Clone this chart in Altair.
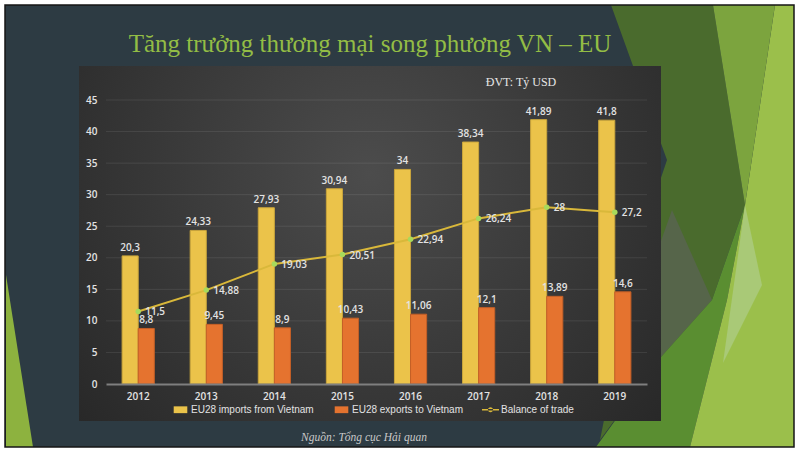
import altair as alt
import pandas as pd

# ---------------- data ----------------
years = ["2012", "2013", "2014", "2015", "2016", "2017", "2018", "2019"]
imports_from_vn = [20.3, 24.33, 27.93, 30.94, 34, 38.34, 41.89, 41.8]
exports_to_vn = [8.8, 9.45, 8.9, 10.43, 11.06, 12.1, 13.89, 14.6]
balance_of_trade = [11.5, 14.88, 19.03, 20.51, 22.94, 26.24, 28, 27.2]
series_names = ["EU28 imports from Vietnam", "EU28 exports to Vietnam", "Balance of trade"]
y_ticks = [0, 5, 10, 15, 20, 25, 30, 35, 40, 45]

title_text = "Tăng trưởng thương mại song phương VN – EU"
unit_text = "ĐVT: Tỷ USD"
source_text = "Nguồn: Tổng cục Hải quan"

# ---------------- styling ----------------
PLOT_L, PLOT_T, PLOT_W, PLOT_H = 106, 100, 541, 284
YEL, YEL_D = "#EBC34A", "#C9A53C"
ORA, ORA_D = "#E5732F", "#C45F27"
LINE_C, PT_C = "#D9B83A", "#A8D95B"
LBL = "#E3E3E3"
SLIDE = "#2D3B43"


def vn(v):
    return f"{v:g}".replace(".", ",")


bars_df = pd.DataFrame({
    "year": years * 2,
    "series": [series_names[0]] * len(years) + [series_names[1]] * len(years),
    "value": imports_from_vn + exports_to_vn,
})
bars_df["label"] = bars_df["value"].map(vn)

line_df = pd.DataFrame({"year": years, "value": balance_of_trade})
line_df["label"] = line_df["value"].map(vn)

grid_df = pd.DataFrame({"value": y_ticks[1:]})
legend_df = pd.DataFrame({"key": series_names})
one = pd.DataFrame({"a": [0]})

# decorative slide shapes (canvas pixel paths, drawn as custom symbols at canvas origin)
decor_df = pd.DataFrame({
    "idx": list(range(7)),
    "path": [
        "M611,5L713,5L745,205L712,300L661,357L600,440L640,240L667,160Z",
        "M672,210L712,300L661,357L640,300Z",
        "M596,447L661,357L712,300L745,205L727,300L690,447Z",
        "M775,5L794,5L794,447L690,447L727,300L745,205Z",
        "M713,5L775,5L745,205Z",
        "M745,205L762,285L723,363Z",
        "M6,275L33,447L6,447Z",
    ],
    "fill": ["#4A6B2D", "#56654A", "#5A8E31", "#9BBF4B", "#7CA43E", "#A9C977", "#8DB23F"],
})

rel_x = lambda px: alt.value(px - PLOT_L)
rel_y = lambda py: alt.value(py - PLOT_T)

slide_bg = alt.Chart(one).mark_rect(color=SLIDE).encode(
    x=rel_x(5), x2=rel_x(794), y=rel_y(5), y2=rel_y(447)
)

decor = alt.Chart(decor_df).mark_point(filled=True, opacity=1, size=4, strokeWidth=0).encode(
    x=rel_x(0), y=rel_y(0),
    shape=alt.Shape("path:N", scale=None, legend=None),
    color=alt.Color("fill:N", scale=None, legend=None),
    order=alt.Order("idx:Q"),
)

frame = alt.Chart(one).mark_rect(fillOpacity=0, stroke="#161616", strokeWidth=1.5).encode(
    x=rel_x(5), x2=rel_x(794), y=rel_y(5), y2=rel_y(447)
)

panel = alt.Chart(one).mark_rect(
    fill={
        "gradient": "radial",
        "x1": 0.5, "y1": 0.38, "r1": 0,
        "x2": 0.5, "y2": 0.38, "r2": 0.75,
        "stops": [
            {"offset": 0, "color": "#4C4C4C"},
            {"offset": 1, "color": "#232323"},
        ],
    }
).encode(x=rel_x(79), x2=rel_x(661), y=rel_y(66), y2=rel_y(421))

title = alt.Chart(one).mark_text(
    text=title_text, font="Liberation Serif", fontSize=25, color="#93BD45",
    align="center", baseline="alphabetic",
).encode(x=rel_x(370), y=rel_y(52))

unit = alt.Chart(one).mark_text(
    text=unit_text, font="Liberation Serif", fontSize=12, color="#E6E6E6",
    align="center", baseline="alphabetic",
).encode(x=rel_x(521), y=rel_y(86))

source = alt.Chart(one).mark_text(
    text=source_text, font="Liberation Serif", fontSize=11.5, fontStyle="italic", color="#C8C8C8",
    align="center", baseline="alphabetic",
).encode(x=rel_x(364), y=rel_y(441))

y_scale = alt.Scale(domain=[0, 45], nice=False)
x_scale = alt.Scale(paddingInner=0.527, paddingOuter=0.2365)

x_axis = alt.Axis(
    title="", labelAngle=0, labelColor=LBL, labelFont="Open Sans", labelFontSize=10,
    labelFontWeight=600, ticks=False, domainColor="#7F7F7F", domainWidth=2,
    labelPadding=7, grid=False, zindex=1,
)
y_axis = alt.Axis(
    title="", values=y_ticks, labelColor=LBL, labelFont="Open Sans", labelFontSize=10,
    labelFontWeight=600, ticks=False, domain=False, grid=False, labelPadding=9, zindex=1,
)

X = lambda: alt.X("year:N", sort=years, scale=x_scale, axis=x_axis)
Y = lambda: alt.Y("value:Q", scale=y_scale, axis=y_axis)

grid = alt.Chart(grid_df).mark_rule(color="#FFFFFF", strokeOpacity=0.09, strokeWidth=1).encode(y=Y())

bars = alt.Chart(bars_df).mark_bar(strokeWidth=1).encode(
    x=X(),
    xOffset=alt.XOffset("series:N", sort=series_names[:2]),
    y=Y(),
    color=alt.Color("series:N", scale=alt.Scale(domain=series_names[:2], range=[YEL, ORA]), legend=None),
    stroke=alt.Stroke("series:N", scale=alt.Scale(domain=series_names[:2], range=[YEL_D, ORA_D]), legend=None),
)

bar_labels = alt.Chart(bars_df).mark_text(
    font="Open Sans", fontSize=10, fontWeight=600, color=LBL, baseline="alphabetic", dy=-5,
).encode(
    x=X(),
    xOffset=alt.XOffset("series:N", sort=series_names[:2]),
    y=Y(),
    text="label:N",
)

line = alt.Chart(line_df).mark_line(color=LINE_C, strokeWidth=2).encode(x=X(), y=Y())

points = alt.Chart(line_df).mark_point(filled=True, opacity=1, size=30, color=PT_C, strokeWidth=0).encode(
    x=X(), y=Y()
)

line_labels = alt.Chart(line_df).mark_text(
    font="Open Sans", fontSize=10, fontWeight=600, color=LBL, align="left", baseline="middle", dx=7, dy=1,
).encode(x=X(), y=Y(), text="label:N")

RECT_PATH = "M-0.8,-0.4L0.8,-0.4L0.8,0.4L-0.8,0.4Z"
LINEDOT_PATH = "M-1,-0.09L1,-0.09L1,0.09L-1,0.09Z M-0.3,0A0.3,0.3 0 1,0 0.3,0A0.3,0.3 0 1,0 -0.3,0Z"

leg = alt.Legend(
    title=None, orient="none", legendX=66, legendY=301, direction="horizontal",
    labelColor=LBL, labelFont="Liberation Sans", labelFontSize=10, labelOffset=2,
    symbolSize=289, symbolStrokeWidth=0, columnPadding=19, padding=0,
)

legend_layer = alt.Chart(legend_df).transform_filter("false").mark_point(
    filled=True, opacity=1, size=289, strokeWidth=0
).encode(
    x=alt.value(0), y=alt.value(0),
    color=alt.Color("key:N", scale=alt.Scale(domain=series_names, range=[YEL, ORA, LINE_C]), legend=leg),
    shape=alt.Shape("key:N", scale=alt.Scale(domain=series_names, range=[RECT_PATH, RECT_PATH, LINEDOT_PATH]), legend=leg),
)

chart = alt.layer(
    slide_bg, decor, frame, panel, title, unit, source,
    grid, bars, bar_labels, line, points, line_labels, legend_layer,
).resolve_scale(
    color="independent", shape="independent"
).properties(
    width=PLOT_W, height=PLOT_H,
    padding={"left": PLOT_L, "top": PLOT_T, "right": 800 - PLOT_L - PLOT_W, "bottom": 452 - PLOT_T - PLOT_H},
    autosize=alt.AutoSizeParams(type="none"),
    background="#FFFFFF",
).configure_view(strokeWidth=0)

chart.save("out.html", embed_options={"renderer": "svg", "actions": False})
